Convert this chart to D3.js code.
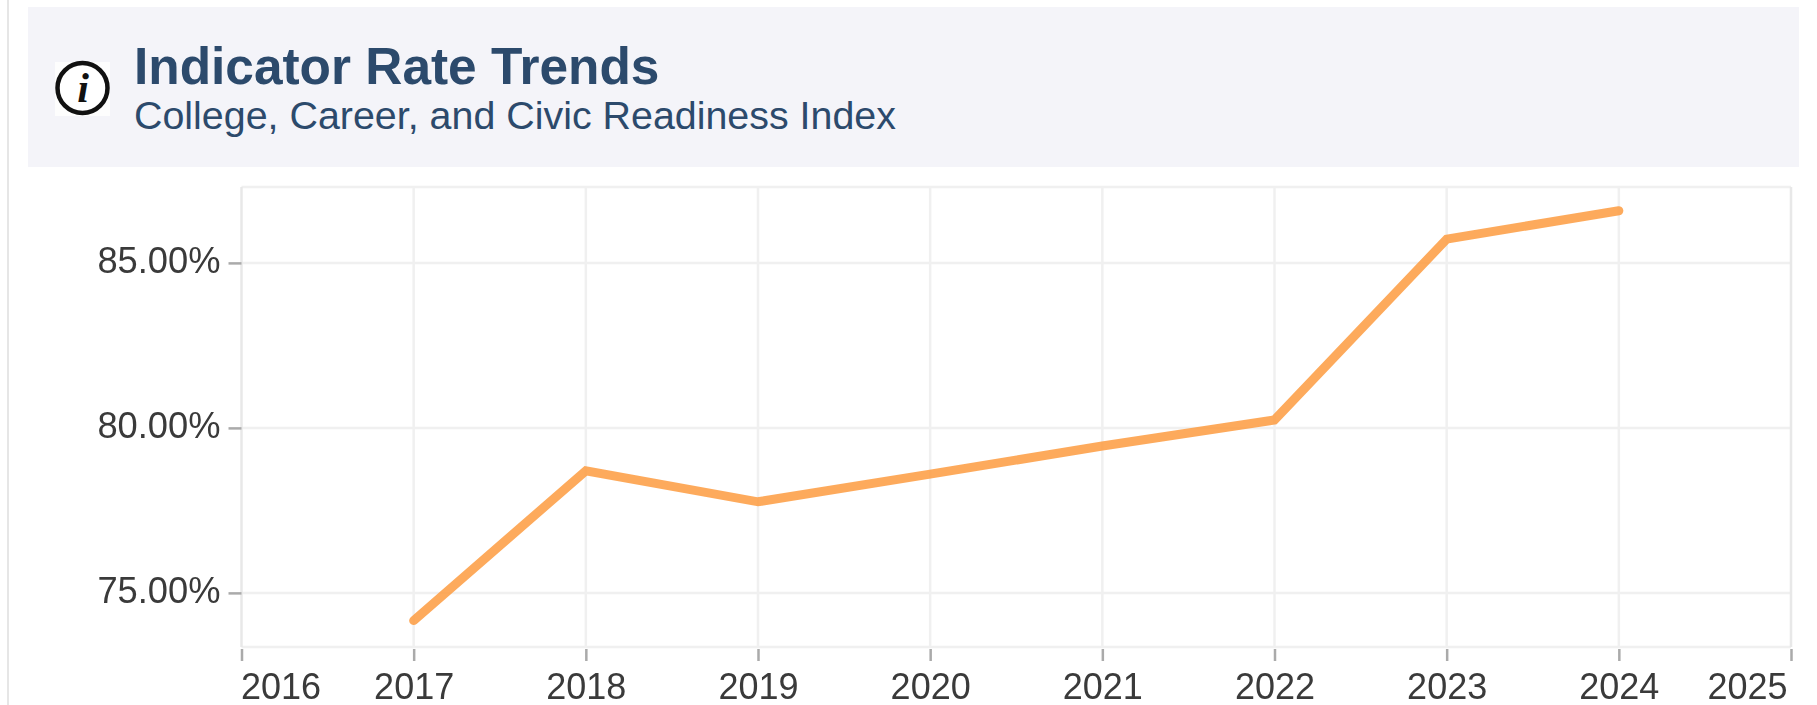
<!DOCTYPE html>
<html><head><meta charset="utf-8">
<script src="https://cdn.jsdelivr.net/npm/d3@7/dist/d3.min.js"></script>
<style>html,body{margin:0;padding:0;background:#fff;overflow:hidden}svg{display:block;font-family:"Liberation Sans",Arial,sans-serif;filter:blur(0.5px)}</style>
</head><body><svg id="c" width="1817" height="705"></svg>
<script>
const titleText = "Indicator Rate Trends";
const subtitleText = "College, Career, and Civic Readiness Index";
const years = [2017,2018,2019,2020,2021,2022,2023,2024];
const rates = [74.16,78.7,77.76,78.6,79.45,80.24,85.72,86.58];
const xTicks = [2016,2017,2018,2019,2020,2021,2022,2023,2024,2025];
const yTicks = [75,80,85];
const xDomain = [2016,2025];
const yDomain = [73.36,87.3];

const svg = d3.select("#c");
const m = {l:241.5,r:1791,t:187,b:647};
const x = d3.scaleLinear().domain(xDomain).range([m.l,m.r]);
const y = d3.scaleLinear().domain(yDomain).range([m.b,m.t]);

svg.append("rect").attr("x",7).attr("y",0).attr("width",2).attr("height",705).attr("fill","#e6e6e6");
svg.append("rect").attr("x",28).attr("y",7).attr("width",1771).attr("height",160).attr("fill","#f4f4f9");

// icon
const ic = svg.append("g");
ic.append("rect").attr("x",55).attr("y",62).attr("width",55).attr("height",54).attr("fill","#fdfdfd");
ic.append("circle").attr("cx",82.5).attr("cy",88).attr("r",25).attr("fill","#fff").attr("stroke","#111").attr("stroke-width",4.5);
ic.append("text").attr("x",83).attr("y",102).attr("text-anchor","middle").attr("font-family","Liberation Serif").attr("font-style","italic").attr("font-weight","bold").attr("font-size",42).attr("fill","#111").text("i");

svg.append("text").attr("x",134).attr("y",84).attr("font-size",51.4).attr("font-weight","bold").attr("fill","#2c4a6c").text(titleText);
svg.append("text").attr("x",134).attr("y",129).attr("font-size",39.4).attr("fill","#2c4a6c").text(subtitleText);

// grid
const grid = svg.append("g").attr("stroke","#f0f0f0").attr("stroke-width",2.5);
grid.selectAll(".gx").data(xTicks.slice(1,-1)).join("line").attr("x1",d=>x(d)).attr("x2",d=>x(d)).attr("y1",m.t).attr("y2",m.b);
grid.selectAll(".gy").data(yTicks).join("line").attr("y1",d=>y(d)).attr("y2",d=>y(d)).attr("x1",m.l).attr("x2",m.r);
grid.append("line").attr("x1",m.l).attr("x2",m.r).attr("y1",m.t).attr("y2",m.t);
grid.append("line").attr("x1",m.l).attr("x2",m.r).attr("y1",m.b).attr("y2",m.b);
const edges = svg.append("g").attr("stroke","#e8e8e8").attr("stroke-width",2.5);
edges.selectAll("line").data(xDomain).join("line").attr("x1",d=>x(d)).attr("x2",d=>x(d)).attr("y1",m.t).attr("y2",m.b);

// axes
const xAxis = d3.axisBottom(x).tickValues(xTicks).tickFormat(d3.format("d")).tickSize(14).tickPadding(12);
const gx = svg.append("g").attr("transform",`translate(0,${m.b})`).call(xAxis);
gx.select(".domain").remove();
gx.selectAll(".tick line").attr("stroke","#aaa").attr("stroke-width",2.5).attr("y1",2);
gx.selectAll(".tick text").attr("font-size",36).attr("font-family","inherit").attr("fill","#3a3a3a")
  .attr("text-anchor",d=>d===2016?"start":d===2025?"end":"middle")
  .attr("dx",d=>d===2025?-4:d===2016?-1:0);
const yAxis = d3.axisLeft(y).tickValues(yTicks).tickFormat(d=>d3.format(".2f")(d)+"%").tickSize(13).tickPadding(8);
const gy = svg.append("g").attr("transform",`translate(${m.l},0)`).call(yAxis);
gy.select(".domain").remove();
gy.selectAll(".tick line").attr("stroke","#aaa").attr("stroke-width",2.5);
gy.selectAll(".tick text").attr("font-size",36.3).attr("font-family","inherit").attr("fill","#3a3a3a").attr("dy","0.27em");

// line
svg.append("path").datum(years.map((d,i)=>[d,rates[i]]))
  .attr("fill","none").attr("stroke","#fd9b3f").attr("stroke-opacity",0.85).attr("stroke-width",9).attr("stroke-linecap","round").attr("stroke-linejoin","miter")
  .attr("d",d3.line().x(d=>x(d[0])).y(d=>y(d[1])));
</script></body></html>
